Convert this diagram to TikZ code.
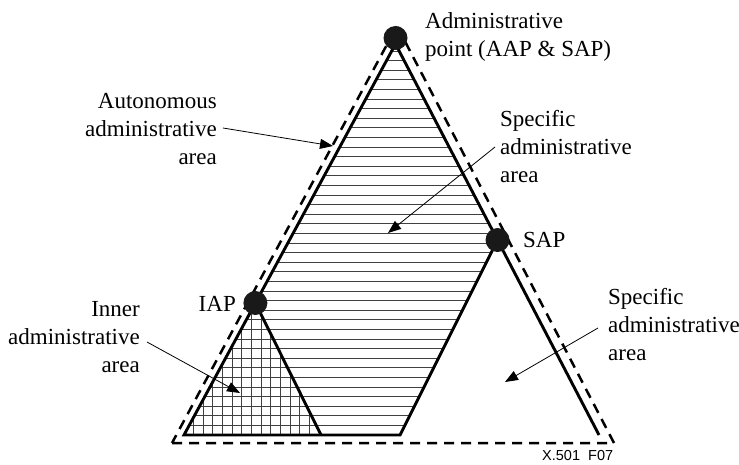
\documentclass[tikz,border=0pt]{standalone}
\usepackage{fontspec}
\setmainfont{Liberation Serif}
\setsansfont{Liberation Sans}
\usetikzlibrary{arrows.meta,calc}

\begin{document}
\begin{tikzpicture}[x=1pt,y=-1pt,
  lbl/.style={inner sep=0pt, font=\fontsize{23}{28}\selectfont},
  arr/.style={-{Triangle[length=13pt,width=10pt]}, line width=0.8pt},
  solidedge/.style={line width=2.9pt, line join=miter},
  dashedge/.style={line width=2.5pt, dash pattern=on 10pt off 7pt},
  dot/.style={circle, fill=black!90, minimum size=24pt, inner sep=0pt},
  hatch/.style={line width=0.9pt, black!75}]
\useasboundingbox (0,0) rectangle (739,465);
\coordinate (A) at (395.5,44);
\coordinate (BL) at (184,435);
\coordinate (BR) at (599,435);
\coordinate (IAP) at ($(A)!0.6624!(BL)$);
\coordinate (SAP) at ($(A)!0.5013!(BR)$);
\coordinate (IB) at (321,435);
\coordinate (SB) at (400,435);

% horizontal hatching
\begin{scope}
  \clip (A) -- (BL) -- (SB) -- (SAP) -- cycle;
  \foreach \k in {1,...,40} \draw[hatch] (150,435-9.6*\k) -- (650,435-9.6*\k);
\end{scope}
% vertical grid lines in inner area
\begin{scope}
  \clip (IAP) -- (BL) -- (IB) -- cycle;
  \foreach \k in {-1,...,14} \draw[hatch] (193.3+9.67*\k,290) -- (193.3+9.67*\k,440);
\end{scope}

% outer dashed triangle
\draw[dashedge] (172,443) -- (614,443) -- (397,26) -- cycle;
% solid edges
\draw[solidedge] (BR) -- (A) -- (BL) -- (SB) -- (SAP);
\draw[solidedge] (IAP) -- (IB);

% points
\node[dot] (dA) at (395.5,38) {};
\node[dot] (dI) at (IAP) {};
\node[dot] (dS) at (SAP) {};

% labels
\node[lbl, anchor=west, align=left] (tAP) at (425,37) {Administrative\\point (AAP \& SAP)};
\node[lbl, anchor=east, align=right] (tAuto) at (217,129) {Autonomous\\administrative\\area};
\node[lbl, anchor=west, align=left] (tSpec1) at (500,147) {Specific\\administrative\\area};
\node[lbl, anchor=east, align=right] (tInner) at (140,337) {Inner\\administrative\\area};
\node[lbl, anchor=west, align=left] (tSpec2) at (608,325) {Specific\\administrative\\area};
\node[lbl, anchor=west] (tSAP) at (523,240) {SAP};
\node[lbl, anchor=east] (tIAP) at (236,304) {IAP};
\node[inner sep=0pt, anchor=west, font=\sffamily\fontsize{14.5}{16}\selectfont] (fig) at (542,456) {X.501\ \ F07};

% arrows
\coordinate (s1) at (223,128); \coordinate (e1) at (333,146);
\coordinate (s2) at (495,147); \coordinate (e2) at (388,233);
\coordinate (s3) at (147,342); \coordinate (e3) at (240,393);
\coordinate (s4) at (598,328); \coordinate (e4) at (505,382);
\draw[arr] (s1) -- (e1);
\draw[arr] (s2) -- (e2);
\draw[arr] (s3) -- (e3);
\draw[arr] (s4) -- (e4);
\end{tikzpicture}
\end{document}
